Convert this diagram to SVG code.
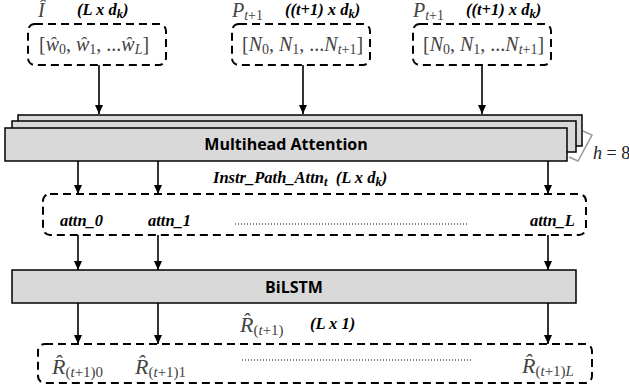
<svg xmlns="http://www.w3.org/2000/svg" width="629" height="390" viewBox="0 0 629 390">
<defs>
<marker id="ah" markerWidth="10" markerHeight="10" refX="9" refY="5" orient="auto" markerUnits="userSpaceOnUse">
<path d="M0,1 L9,5 L0,9 Z" fill="#000"/>
</marker>
<style>
.dash{fill:none;stroke:#000;stroke-width:2;stroke-dasharray:8 5}
.blk{fill:#d9d9d9;stroke:#000;stroke-width:1.5}
.conn{stroke:#000;stroke-width:1.6;fill:none;marker-end:url(#ah)}
.lbl{font-family:"Liberation Serif",serif;font-style:italic;font-weight:bold;font-size:16.5px;fill:#000}
.ls{font-size:12.5px}
.math{font-family:"Liberation Serif",serif;font-size:20px;fill:#444}
.mi{font-style:italic}
.sub{font-size:14px}
.rm{font-family:"Liberation Serif",serif;font-size:22px;fill:#444;font-style:italic}
.rs{font-size:15px;font-style:normal}
.bt{font-family:"Open Sans","Liberation Sans",sans-serif;font-weight:bold;font-size:16px;fill:#000}
.dots{stroke:#000;stroke-width:1;stroke-dasharray:1 2}
</style>
</defs>

<g id="input-I">
<rect class="dash" x="28" y="24" width="138" height="41" rx="7"/>
<text class="math mi" x="38" y="17">Î</text>
<text class="lbl" x="77" y="15">(L x d<tspan class="ls" dy="3">k</tspan><tspan dy="-3">)</tspan></text>
<text class="math" x="39" y="51">[<tspan class="mi">ŵ</tspan><tspan class="sub" dy="3">0</tspan><tspan dy="-3">, </tspan><tspan class="mi">ŵ</tspan><tspan class="sub" dy="3">1</tspan><tspan dy="-3">, ...</tspan><tspan class="mi">ŵ</tspan><tspan class="sub mi" dy="3">L</tspan><tspan dy="-3">]</tspan></text>
</g>

<g id="input-P1">
<rect class="dash" x="232" y="24" width="138" height="41" rx="7"/>
<text class="math mi" x="232" y="17">P<tspan class="sub" dy="3" font-style="normal"><tspan class="mi">t</tspan>+1</tspan></text>
<text class="lbl" x="285" y="15">((t+1) x d<tspan class="ls" dy="3">k</tspan><tspan dy="-3">)</tspan></text>
<text class="math" x="242" y="51">[<tspan class="mi">N</tspan><tspan class="sub" dy="3">0</tspan><tspan dy="-3">, </tspan><tspan class="mi">N</tspan><tspan class="sub" dy="3">1</tspan><tspan dy="-3">, ...</tspan><tspan class="mi">N</tspan><tspan class="sub" dy="3"><tspan class="mi">t</tspan>+1</tspan><tspan dy="-3">]</tspan></text>
</g>

<g id="input-P2">
<rect class="dash" x="413" y="24" width="138" height="41" rx="7"/>
<text class="math mi" x="413" y="17">P<tspan class="sub" dy="3" font-style="normal"><tspan class="mi">t</tspan>+1</tspan></text>
<text class="lbl" x="466" y="15">((t+1) x d<tspan class="ls" dy="3">k</tspan><tspan dy="-3">)</tspan></text>
<text class="math" x="423" y="51">[<tspan class="mi">N</tspan><tspan class="sub" dy="3">0</tspan><tspan dy="-3">, </tspan><tspan class="mi">N</tspan><tspan class="sub" dy="3">1</tspan><tspan dy="-3">, ...</tspan><tspan class="mi">N</tspan><tspan class="sub" dy="3"><tspan class="mi">t</tspan>+1</tspan><tspan dy="-3">]</tspan></text>
</g>

<g id="multihead">
<rect class="blk" x="18" y="115" width="564" height="31"/>
<rect class="blk" x="12" y="121" width="564" height="31"/>
<rect class="blk" x="5" y="128" width="562" height="33"/>
<text class="bt" x="286" y="150" text-anchor="middle">Multihead Attention</text>
<polyline points="583,131 592,135 578,161 569,157" fill="none" stroke="#999" stroke-width="1.5"/>
<text x="593" y="159" font-family="Liberation Serif,serif" font-size="18" fill="#222"><tspan font-style="italic">h</tspan> = 8</text>
</g>

<g id="attn-vector">
<text class="lbl" x="213" y="183">Instr_Path_Attn<tspan class="ls" dy="3">t</tspan><tspan dy="-3" xml:space="preserve">  (L x d</tspan><tspan class="ls" dy="3">k</tspan><tspan dy="-3">)</tspan></text>
<rect class="dash" x="43" y="194" width="543" height="41" rx="7"/>
<text class="lbl" x="60" y="226">attn_0</text>
<text class="lbl" x="148" y="226">attn_1</text>
<line class="dots" x1="235" y1="224" x2="467" y2="224"/>
<text class="lbl" x="530" y="226">attn_L</text>
</g>

<g id="bilstm">
<rect class="blk" x="12" y="270" width="564" height="33"/>
<text class="bt" x="294" y="293" text-anchor="middle" font-size="16.5">BiLSTM</text>
</g>

<g id="output">
<text class="rm" x="240" y="332">R̂<tspan class="rs" dy="3">(<tspan class="mi">t</tspan>+1)</tspan></text>
<text class="lbl" x="310" y="329">(L x 1)</text>
<rect class="dash" x="38" y="344" width="554" height="39" rx="7"/>
<text class="rm" x="52" y="374">R̂<tspan class="rs" dy="3">(<tspan class="mi">t</tspan>+1)0</tspan></text>
<text class="rm" x="135" y="374">R̂<tspan class="rs" dy="3">(<tspan class="mi">t</tspan>+1)1</tspan></text>
<line class="dots" x1="242" y1="360" x2="473" y2="360"/>
<text class="rm" x="522" y="373">R̂<tspan class="rs" dy="3">(<tspan class="mi">t</tspan>+1)<tspan class="mi">L</tspan></tspan></text>
</g>

<g id="connectors">
<line class="conn" x1="99" y1="65" x2="99" y2="114"/>
<line class="conn" x1="303" y1="65" x2="303" y2="114"/>
<line class="conn" x1="482" y1="65" x2="482" y2="114"/>
<line class="conn" x1="78" y1="161" x2="78" y2="194"/>
<line class="conn" x1="158" y1="161" x2="158" y2="194"/>
<line class="conn" x1="548" y1="161" x2="548" y2="194"/>
<line class="conn" x1="78" y1="235" x2="78" y2="270"/>
<line class="conn" x1="158" y1="235" x2="158" y2="270"/>
<line class="conn" x1="548" y1="235" x2="548" y2="270"/>
<line class="conn" x1="78" y1="303" x2="78" y2="344"/>
<line class="conn" x1="158" y1="303" x2="158" y2="344"/>
<line class="conn" x1="548" y1="303" x2="548" y2="344"/>
</g>
</svg>
